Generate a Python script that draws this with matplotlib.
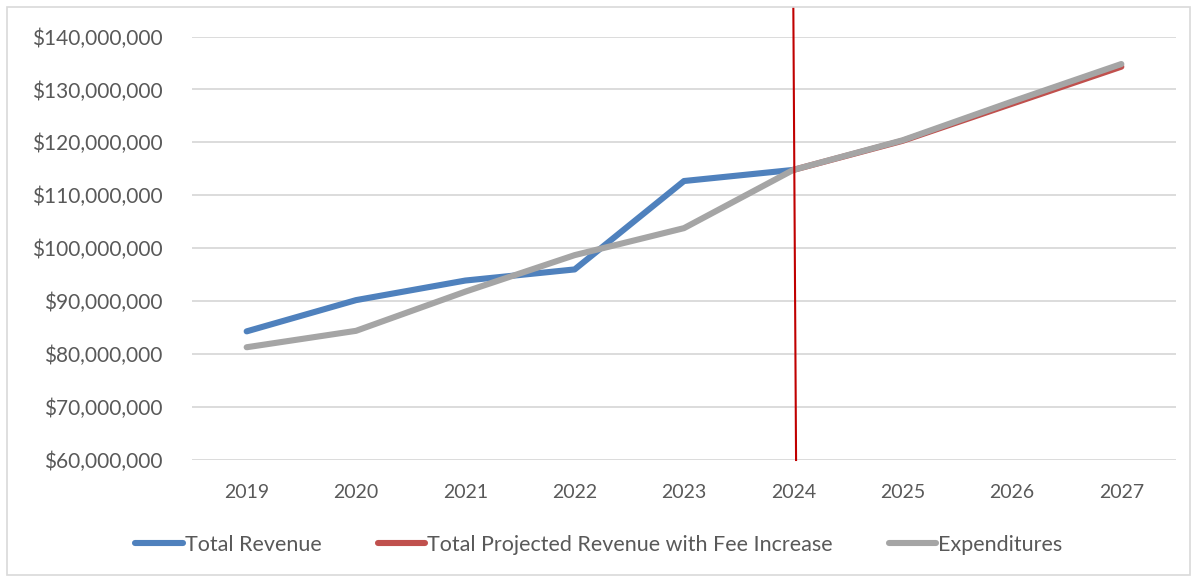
import matplotlib
matplotlib.use("Agg")
import matplotlib.pyplot as plt
from matplotlib.ticker import FuncFormatter
from matplotlib.patches import Rectangle

plt.rcParams["font.family"] = ["Lato", "DejaVu Sans"]

years = ["2019", "2020", "2021", "2022", "2023", "2024", "2025", "2026", "2027"]
total_revenue = [84.3, 90.2, 93.9, 96.0, 112.7, 114.8]
projected_revenue = [None, None, None, None, None, 114.8, 120.3, 127.3, 134.3]
expenditures = [81.3, 84.4, 91.8, 98.7, 103.8, 114.8, 120.4, 127.7, 134.8]
divider_year = "2024"

TEXT = "#595959"
W, H = 1198, 582

fig = plt.figure(figsize=(W / 100, H / 100), dpi=100)
ax = fig.add_axes([192 / W, 1 - 460 / H, (1176 - 192) / W, (460 - 36.5) / H])

x = list(range(len(years)))
m = 1e6

proj_x = [i for i, v in enumerate(projected_revenue) if v is not None]
proj_y = [v * m for v in projected_revenue if v is not None]

ax.plot(x[:len(total_revenue)], [v * m for v in total_revenue],
        color="#4F81BD", lw=4.4, solid_capstyle="round", label="Total Revenue", zorder=3)
ax.plot(proj_x, proj_y, color="#C0504D", lw=4.4, solid_capstyle="round",
        label="Total Projected Revenue with Fee Increase", zorder=3)
ax.plot(x, [v * m for v in expenditures], color="#A5A5A5", lw=4.4,
        solid_capstyle="round", label="Expenditures", zorder=4)

# vertical divider marking the start of projections
xd = years.index(divider_year)
ax.plot([xd, xd + 0.025], [145.4 * m, 60 * m], color="#C00000", lw=1.5,
        clip_on=False, zorder=5)

ax.set_xlim(-0.5, len(years) - 0.5)
ax.set_ylim(60 * m, 140 * m)
ax.set_yticks([v * m for v in range(60, 141, 10)])
ax.yaxis.set_major_formatter(FuncFormatter(lambda v, p: f"${v:,.0f}"))
ax.set_xticks(x)
ax.set_xticklabels(years)

ax.grid(axis="y", color="#D9D9D9", lw=1.3)
ax.set_axisbelow(True)
for s in ax.spines.values():
    s.set_visible(False)
ax.tick_params(axis="both", length=0, labelsize=14, colors=TEXT)
ax.tick_params(axis="y", pad=21, labelsize=15)
ax.tick_params(axis="x", pad=17)

leg = fig.legend(loc="center", bbox_to_anchor=(0.5, 1 - 545 / H), ncol=3,
                 frameon=False, fontsize=15.5, handlelength=2.2,
                 handletextpad=0.1, columnspacing=2.6)
for t in leg.get_texts():
    t.set_color(TEXT)

fig.patches.append(Rectangle((7 / W, 7 / H), (1190 - 7) / W, (575 - 7) / H,
                             transform=fig.transFigure, fill=False,
                             edgecolor="#D9D9D9", lw=1.2))

fig.savefig("out.png", dpi=100)
